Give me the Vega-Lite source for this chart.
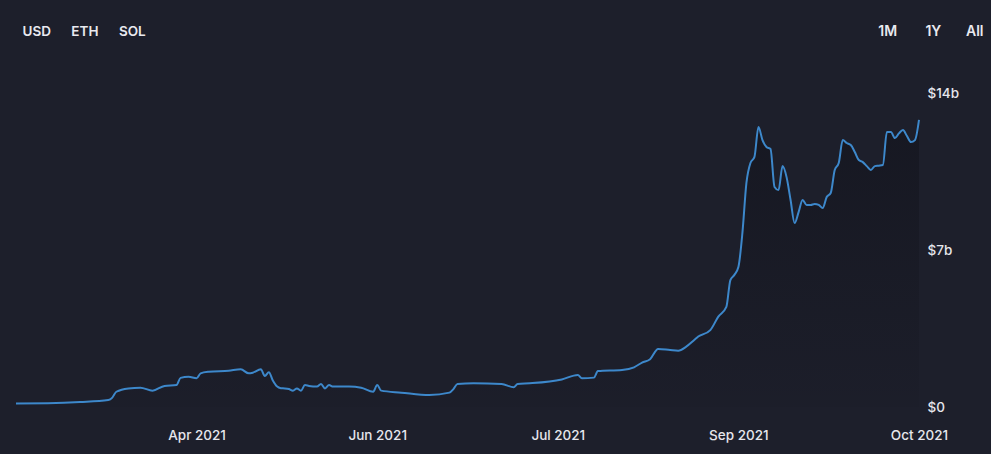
{
  "$schema": "https://vega.github.io/schema/vega-lite/v6.json",
  "autosize": {"type": "none"},
  "width": 903,
  "height": 314,
  "padding": {"left": 16, "top": 93, "right": 72, "bottom": 47},
  "background": "#1d1f2b",
  "config": {
    "view": {"stroke": null},
    "font": "Inter",
    "axis": {"labelFont": "Inter", "titleFont": "Inter"}
  },
  "data": {"values": [
    {"date": "2021-02-18", "value": 0.16},
    {"date": "2021-02-26", "value": 0.17},
    {"date": "2021-03-06", "value": 0.22},
    {"date": "2021-03-13", "value": 0.31},
    {"date": "2021-03-14", "value": 0.42},
    {"date": "2021-03-15", "value": 0.68},
    {"date": "2021-03-18", "value": 0.83},
    {"date": "2021-03-21", "value": 0.86},
    {"date": "2021-03-24", "value": 0.73},
    {"date": "2021-03-27", "value": 0.94},
    {"date": "2021-03-30", "value": 0.98},
    {"date": "2021-03-31", "value": 1.30},
    {"date": "2021-04-02", "value": 1.35},
    {"date": "2021-04-04", "value": 1.28},
    {"date": "2021-04-05", "value": 1.50},
    {"date": "2021-04-07", "value": 1.57},
    {"date": "2021-04-12", "value": 1.62},
    {"date": "2021-04-15", "value": 1.68},
    {"date": "2021-04-17", "value": 1.50},
    {"date": "2021-04-18", "value": 1.53},
    {"date": "2021-04-20", "value": 1.68},
    {"date": "2021-04-21", "value": 1.38},
    {"date": "2021-04-22", "value": 1.55},
    {"date": "2021-04-23", "value": 1.18},
    {"date": "2021-04-24", "value": 0.92},
    {"date": "2021-04-25", "value": 0.84},
    {"date": "2021-04-26", "value": 0.83},
    {"date": "2021-04-27", "value": 0.80},
    {"date": "2021-04-28", "value": 0.73},
    {"date": "2021-04-29", "value": 0.83},
    {"date": "2021-04-30", "value": 0.73},
    {"date": "2021-05-01", "value": 0.98},
    {"date": "2021-05-02", "value": 0.94},
    {"date": "2021-05-04", "value": 0.91},
    {"date": "2021-05-05", "value": 1.03},
    {"date": "2021-05-06", "value": 0.83},
    {"date": "2021-05-07", "value": 0.98},
    {"date": "2021-05-08", "value": 0.91},
    {"date": "2021-05-12", "value": 0.91},
    {"date": "2021-05-15", "value": 0.86},
    {"date": "2021-05-18", "value": 0.68},
    {"date": "2021-05-19", "value": 0.98},
    {"date": "2021-05-20", "value": 0.73},
    {"date": "2021-05-25", "value": 0.64},
    {"date": "2021-06-01", "value": 0.53},
    {"date": "2021-06-06", "value": 0.64},
    {"date": "2021-06-07", "value": 0.80},
    {"date": "2021-06-08", "value": 1.03},
    {"date": "2021-06-12", "value": 1.06},
    {"date": "2021-06-19", "value": 1.03},
    {"date": "2021-06-22", "value": 0.88},
    {"date": "2021-06-23", "value": 1.03},
    {"date": "2021-06-26", "value": 1.06},
    {"date": "2021-07-04", "value": 1.23},
    {"date": "2021-07-08", "value": 1.43},
    {"date": "2021-07-09", "value": 1.28},
    {"date": "2021-07-12", "value": 1.31},
    {"date": "2021-07-13", "value": 1.60},
    {"date": "2021-07-19", "value": 1.65},
    {"date": "2021-07-22", "value": 1.77},
    {"date": "2021-07-24", "value": 1.98},
    {"date": "2021-07-26", "value": 2.13},
    {"date": "2021-07-28", "value": 2.59},
    {"date": "2021-07-31", "value": 2.54},
    {"date": "2021-08-02", "value": 2.51},
    {"date": "2021-08-04", "value": 2.69},
    {"date": "2021-08-06", "value": 2.99},
    {"date": "2021-08-07", "value": 3.14},
    {"date": "2021-08-10", "value": 3.43},
    {"date": "2021-08-12", "value": 4.03},
    {"date": "2021-08-14", "value": 4.46},
    {"date": "2021-08-15", "value": 5.66},
    {"date": "2021-08-16", "value": 5.89},
    {"date": "2021-08-17", "value": 6.24},
    {"date": "2021-08-18", "value": 7.76},
    {"date": "2021-08-19", "value": 9.99},
    {"date": "2021-08-20", "value": 10.88},
    {"date": "2021-08-21", "value": 11.15},
    {"date": "2021-08-22", "value": 12.48},
    {"date": "2021-08-23", "value": 11.90},
    {"date": "2021-08-24", "value": 11.59},
    {"date": "2021-08-25", "value": 11.50},
    {"date": "2021-08-26", "value": 9.81},
    {"date": "2021-08-27", "value": 9.67},
    {"date": "2021-08-28", "value": 10.74},
    {"date": "2021-08-29", "value": 10.25},
    {"date": "2021-08-30", "value": 9.23},
    {"date": "2021-08-31", "value": 8.20},
    {"date": "2021-09-01", "value": 8.69},
    {"date": "2021-09-02", "value": 9.23},
    {"date": "2021-09-03", "value": 9.01},
    {"date": "2021-09-04", "value": 9.01},
    {"date": "2021-09-05", "value": 9.05},
    {"date": "2021-09-06", "value": 9.01},
    {"date": "2021-09-07", "value": 8.87},
    {"date": "2021-09-08", "value": 9.36},
    {"date": "2021-09-09", "value": 9.54},
    {"date": "2021-09-10", "value": 10.57},
    {"date": "2021-09-11", "value": 10.88},
    {"date": "2021-09-12", "value": 11.90},
    {"date": "2021-09-13", "value": 11.77},
    {"date": "2021-09-14", "value": 11.68},
    {"date": "2021-09-15", "value": 11.37},
    {"date": "2021-09-16", "value": 11.01},
    {"date": "2021-09-17", "value": 10.92},
    {"date": "2021-09-18", "value": 10.74},
    {"date": "2021-09-19", "value": 10.57},
    {"date": "2021-09-20", "value": 10.74},
    {"date": "2021-09-21", "value": 10.76},
    {"date": "2021-09-22", "value": 10.79},
    {"date": "2021-09-23", "value": 12.26},
    {"date": "2021-09-24", "value": 12.26},
    {"date": "2021-09-25", "value": 11.99},
    {"date": "2021-09-26", "value": 12.20},
    {"date": "2021-09-27", "value": 12.35},
    {"date": "2021-09-28", "value": 12.08},
    {"date": "2021-09-29", "value": 11.81},
    {"date": "2021-09-30", "value": 11.90},
    {"date": "2021-10-01", "value": 12.80}
  ]},
  "encoding": {
    "x": {
      "field": "date",
      "type": "temporal",
      "scale": {"type": "utc", "nice": false},
      "axis": {
        "title": "USD\u00a0\u00a0\u00a0\u00a0\u00a0\u00a0ETH\u00a0\u00a0\u00a0\u00a0\u00a0\u00a0SOL",
        "titleAngle": 0,
        "titleX": 6,
        "titleY": -376,
        "titleAlign": "left",
        "titleBaseline": "middle",
        "titleFontSize": 13.5,
        "titleFontWeight": 600,
        "titleColor": "#e9e9ef",
        "values": [
          {"year": 2021, "month": "apr", "date": 4, "utc": true},
          {"year": 2021, "month": "may", "date": 19, "utc": true},
          {"year": 2021, "month": "jul", "date": 3, "utc": true},
          {"year": 2021, "month": "aug", "date": 17, "utc": true},
          {"year": 2021, "month": "oct", "date": 1, "utc": true}
        ],
        "labelExpr": "utcFormat(datum.value + 1296000000, '%b %Y')",
        "labelFontSize": 13.5,
        "labelFontWeight": 500,
        "labelColor": "#e6e6ec",
        "labelPadding": 21,
        "labelOverlap": false,
        "labelFlush": false,
        "grid": false,
        "ticks": false,
        "domain": false
      }
    },
    "y": {
      "field": "value",
      "type": "quantitative",
      "scale": {"domain": [0, 14], "nice": false, "zero": true},
      "axis": {
        "orient": "right",
        "title": "1M\u00a0\u00a0\u00a0\u00a0\u00a0\u00a0\u00a0\u00a01Y\u00a0\u00a0\u00a0\u00a0\u00a0\u00a0\u00a0All",
        "titleAngle": 0,
        "titleX": 64,
        "titleY": -62,
        "titleAlign": "right",
        "titleBaseline": "middle",
        "titleFontSize": 14,
        "titleFontWeight": 600,
        "titleColor": "#e9e9ef",
        "values": [0, 7, 14],
        "labelExpr": "datum.value == 0 ? '$0' : '$' + datum.value + 'b'",
        "labelFontSize": 13.5,
        "labelFontWeight": 500,
        "labelColor": "#e6e6ec",
        "labelAlign": "left",
        "labelPadding": 8,
        "labelFlush": false,
        "grid": false,
        "ticks": false,
        "domain": false
      }
    }
  },
  "layer": [
    {
      "mark": {
        "type": "area",
        "interpolate": "monotone",
        "color": {
          "gradient": "linear",
          "x1": 0, "y1": 0, "x2": 0, "y2": 1,
          "stops": [
            {"offset": 0, "color": "rgba(5,5,10,0.28)"},
            {"offset": 1, "color": "rgba(5,5,10,0.04)"}
          ]
        }
      }
    },
    {
      "mark": {
        "type": "line",
        "interpolate": "monotone",
        "color": "#3d88cb",
        "strokeWidth": 2
      }
    }
  ]
}
